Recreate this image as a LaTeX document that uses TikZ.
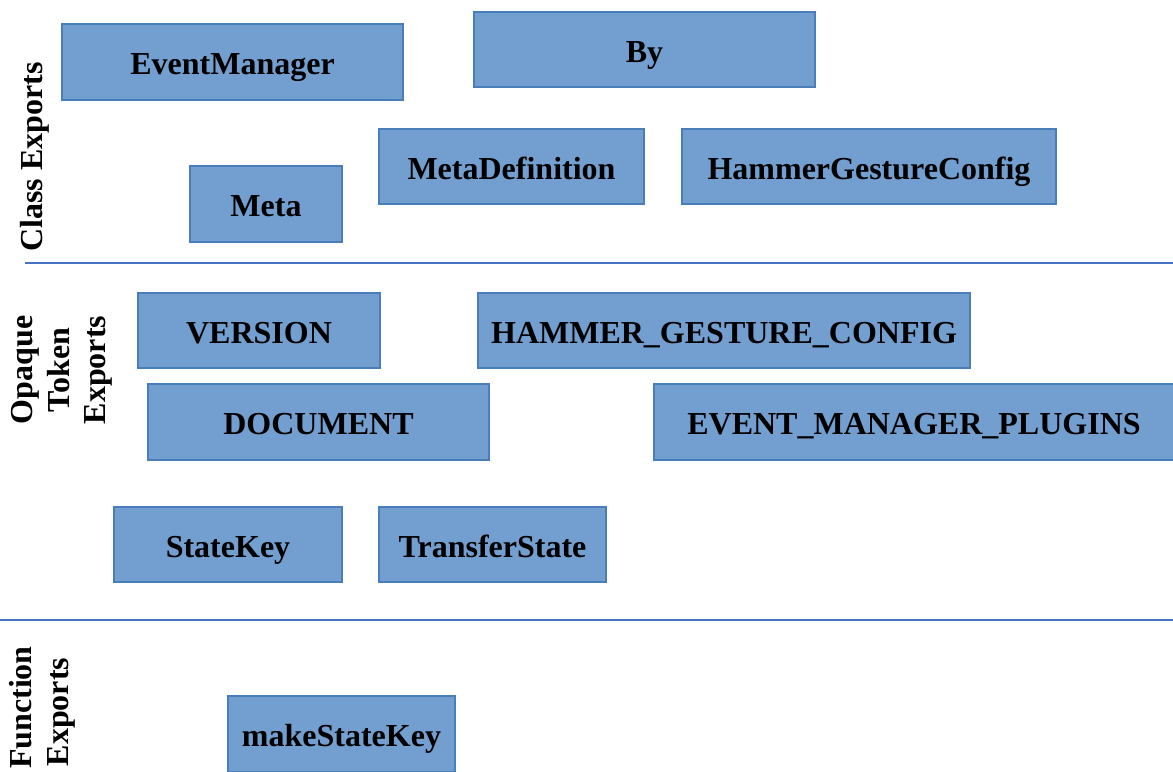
\documentclass[tikz,border=0pt]{standalone}
\usepackage{fontspec}
\setmainfont{Liberation Serif}
\definecolor{boxfill}{HTML}{729FCF}
\definecolor{boxline}{HTML}{4A7EBB}
\definecolor{sepline}{HTML}{4472C4}
\tikzset{
  box/.style={draw=boxline, fill=boxfill, line width=0.9pt, inner sep=0pt,
    text height=19pt, text depth=0pt,
    font=\fontsize{24}{27}\selectfont\bfseries, text=black},
  sidelabel/.style={rotate=90, align=center, inner sep=0pt,
    font=\fontsize{24}{27.5}\selectfont\bfseries},
  sep/.style={draw=sepline, line width=0.8pt}
}
\newcommand\ebox[6]{\node[box, minimum width={(#4-#2)*0.75pt}, minimum height={(#5-#3)*0.75pt}] (#1) at ({(#2+#4)/2},{(#3+#5)/2}) {#6};}
\begin{document}
\begin{tikzpicture}[x=0.75pt,y=-0.75pt]
\useasboundingbox (0,0) rectangle (1173,771);
% Class exports
\ebox{em}{62}{24}{403}{100}{EventManager}
\ebox{by}{474}{12}{815}{87}{By}
\ebox{meta}{190}{166}{342}{242}{Meta}
\ebox{metadef}{379}{129}{644}{204}{MetaDefinition}
\ebox{hgc}{682}{129}{1056}{204}{HammerGestureConfig}
\node[sidelabel] (lclass) at (35,157) {Class Exports};
\coordinate (s1a) at (25,263);
\coordinate (s1b) at (1173,263);
\draw[sep] (s1a) -- (s1b);
% Opaque token exports
\ebox{version}{138}{293}{380}{368}{VERSION}
\ebox{hgctok}{478}{293}{970}{368}{HAMMER\_GESTURE\_CONFIG}
\ebox{doc}{148}{384}{489}{460}{DOCUMENT}
\ebox{emp}{654}{384}{1174}{460}{EVENT\_MANAGER\_PLUGINS}
\ebox{statekey}{114}{507}{342}{582}{StateKey}
\ebox{transfer}{379}{507}{606}{582}{TransferState}
\node[sidelabel, text width=3cm] (lopaque) at (62,370) {Opaque\\Token\\Exports};
\coordinate (s2a) at (0,620);
\coordinate (s2b) at (1173,620);
\draw[sep] (s2a) -- (s2b);
% Function exports
\ebox{mks}{228}{696}{455}{772}{makeStateKey}
\node[sidelabel, text width=3cm] (lfunc) at (42,712) {Function\\Exports};
\end{tikzpicture}
\end{document}
